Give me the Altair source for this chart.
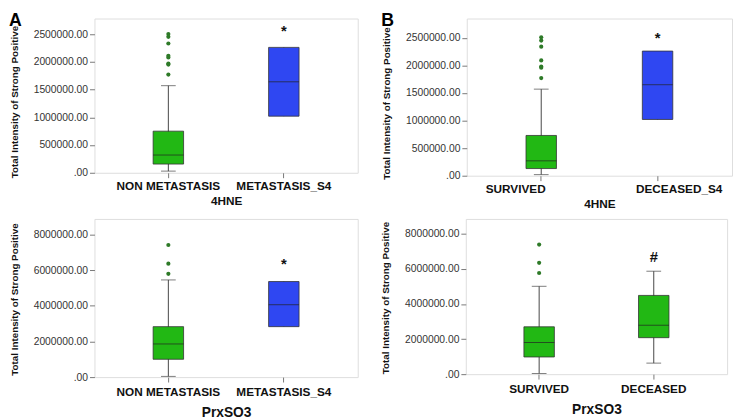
import altair as alt
import pandas as pd

# ---------------- data ----------------
# Panel A, top (4HNE)
a1_groups = ["NON METASTASIS", "METASTASIS_S4"]
a1_q1 = [157000, 1020000]
a1_med = [320000, 1640000]
a1_q3 = [750000, 2260000]
a1_lo = [30000, 1020000]
a1_hi = [1570000, 2260000]
a1_out = [2500000, 2450000, 2330000, 2110000, 2080000, 1970000, 1950000, 1770000]
a1_note, a1_note_y = "*", 2560000

# Panel B, top (4HNE)
b1_groups = ["SURVIVED", "DECEASED_S4"]
b1_q1 = [130000, 1020000]
b1_med = [270000, 1650000]
b1_q3 = [730000, 2260000]
b1_lo = [20000, 1020000]
b1_hi = [1570000, 2260000]
b1_out = [2510000, 2450000, 2340000, 2090000, 1980000, 1960000, 1770000]
b1_note, b1_note_y = "*", 2500000

# Panel A, bottom (PrxSO3)
a2_groups = ["NON METASTASIS", "METASTASIS_S4"]
a2_q1 = [1000000, 2830000]
a2_med = [1860000, 4060000]
a2_q3 = [2830000, 5360000]
a2_lo = [40000, 2830000]
a2_hi = [5450000, 5360000]
a2_out = [7410000, 6360000, 5790000]
a2_note, a2_note_y = "*", 6320000

# Panel B, bottom (PrxSO3)
b2_groups = ["SURVIVED", "DECEASED"]
b2_q1 = [980000, 2080000]
b2_med = [1800000, 2790000]
b2_q3 = [2700000, 4490000]
b2_lo = [40000, 630000]
b2_hi = [5010000, 5870000]
b2_out = [7390000, 6350000, 5770000]
b2_note, b2_note_y = "#", 6700000

top_ticks = [0, 500000, 1000000, 1500000, 2000000, 2500000]
bottom_ticks = [0, 2000000, 4000000, 6000000, 8000000]

GREEN = "#22B814"
BLUE = "#2F47F2"
FONT = "Liberation Sans"


def panel(groups, q1, med, q3, lo, hi, out, note, note_y, ymax, yticks,
          xtitle, xtitle_size, xtitle_pad, xlabel_pad, width, height, ytitle_shift,
          letter=None, label_offset=None):
    box = pd.DataFrame({"g": groups, "q1": q1, "med": med, "q3": q3, "lo": lo, "hi": hi})
    caps = []
    for g, l, a, b, h in zip(groups, lo, q1, q3, hi):
        if l < a:
            caps.append({"g": g, "v": l})
        if h > b:
            caps.append({"g": g, "v": h})
    caps = pd.DataFrame(caps)
    outs = pd.DataFrame({"g": [groups[0]] * len(out), "v": out})
    notes = pd.DataFrame({"g": [groups[1]], "v": [note_y], "t": [note]})

    xaxis_kw = dict(
        title=xtitle, labelAngle=0, labelFont=FONT, labelFontSize=12,
        labelFontWeight="bold", labelColor="#111", titleFont=FONT,
        titleFontSize=xtitle_size, titleFontWeight="bold", titleColor="#111",
        tickColor="#777", tickSize=5, domain=False, labelPadding=xlabel_pad,
        titlePadding=xtitle_pad, labelOverlap=False,
    )
    if label_offset is not None:
        xaxis_kw["labelOffset"] = label_offset
    xscale = alt.Scale(paddingInner=0, paddingOuter=0.14)
    xaxis = alt.Axis(**xaxis_kw)
    yscale = alt.Scale(domain=[0, ymax], nice=False)
    yaxis = alt.Axis(
        values=yticks, grid=False, domain=False, tickSize=5, tickColor="#777",
        labelExpr="datum.value == 0 ? '.00' : format(datum.value, '.2f')",
        labelFont=FONT, labelFontSize=10.5, labelColor="#333", labelPadding=2,
        labelOverlap=False,
        title="Total Intensity of Strong Positive", titleFont=FONT,
        titleFontSize=10, titleFontWeight="bold", titleColor="#111",
        titlePadding=14, titleY=height / 2 + ytitle_shift,
    )

    def X():
        return alt.X("g:N", sort=groups, axis=xaxis, scale=xscale)

    def Y(f):
        return alt.Y(f, scale=yscale, axis=yaxis)

    color = alt.Color("g:N", scale=alt.Scale(domain=groups, range=[GREEN, BLUE]), legend=None)

    base = alt.Chart(box)
    whisk = base.mark_rule(color="#444", strokeWidth=1).encode(
        x=X(), y=Y("lo:Q"), y2="hi:Q")
    bar = base.mark_bar(size=31, stroke="#333", strokeWidth=0.8).encode(
        x=X(), y=Y("q1:Q"), y2="q3:Q", color=color)
    medl = base.mark_tick(color="#222", thickness=1, size=31).encode(x=X(), y=Y("med:Q"))
    cap = alt.Chart(caps).mark_tick(color="#444", thickness=1, size=15).encode(
        x=X(), y=Y("v:Q"))
    pts = alt.Chart(outs).mark_circle(size=18, color="#2E7A28", opacity=1).encode(
        x=X(), y=Y("v:Q"))
    txt = alt.Chart(notes).mark_text(fontSize=15, fontWeight="bold", font=FONT,
                                     color="#111", baseline="middle").encode(
        x=X(), y=Y("v:Q"), text="t:N")
    layers = [whisk, bar, medl, cap, pts, txt]
    if letter:
        lt = alt.Chart(pd.DataFrame({"t": [letter]})).mark_text(
            fontSize=18, fontWeight="bold", font=FONT, color="#000",
            align="left", baseline="top").encode(
            x=alt.value(-87), y=alt.value(-6), text="t:N")
        layers.append(lt)
    return alt.layer(*layers).properties(width=width, height=height)


pA1 = panel(a1_groups, a1_q1, a1_med, a1_q3, a1_lo, a1_hi, a1_out, a1_note, a1_note_y,
            2780000, top_ticks, "4HNE", 12, 4, 3, 268, 157, 6, letter="A")
pB1 = panel(b1_groups, b1_q1, b1_med, b1_q3, b1_lo, b1_hi, b1_out, b1_note, b1_note_y,
            2850000, top_ticks, "4HNE", 12, 4, 3, 270, 160, 6, letter="B",
            label_offset={"condition": {"test": "datum.value == 'SURVIVED'", "value": -26},
                          "value": 22})
pA2 = panel(a2_groups, a2_q1, a2_med, a2_q3, a2_lo, a2_hi, a2_out, a2_note, a2_note_y,
            8870000, bottom_ticks, "PrxSO3", 14, 8, 5, 268, 161, 1)
pB2 = panel(b2_groups, b2_q1, b2_med, b2_q3, b2_lo, b2_hi, b2_out, b2_note, b2_note_y,
            8850000, bottom_ticks, "PrxSO3", 14, 8, 5, 266, 158, 1)

chart = alt.vconcat(
    alt.hconcat(pA1, pB1, spacing=22),
    alt.hconcat(pA2, pB2, spacing=22),
    spacing=8,
).properties(padding=0).configure_view(
    fill="#EFF1F1", stroke="#8E8E8E", strokeWidth=1.2).configure(background="white")

chart.save("out.html", embed_options={"renderer": "svg", "actions": False})
